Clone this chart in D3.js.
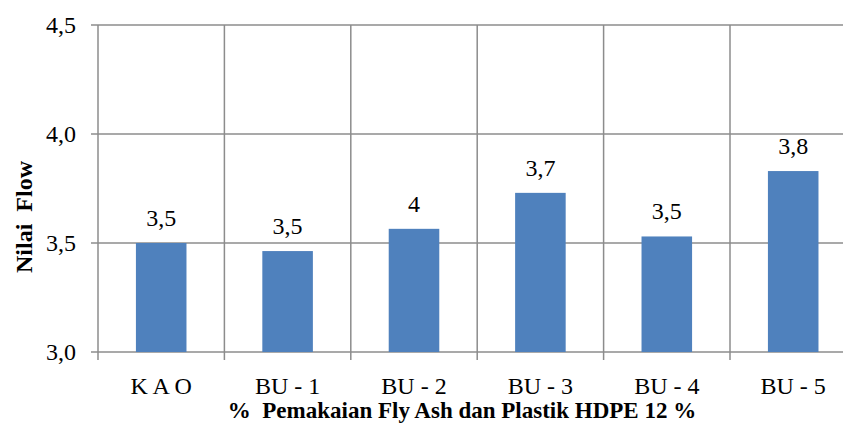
<!DOCTYPE html>
<html>
<head>
<meta charset="utf-8">
<script src="https://cdn.jsdelivr.net/npm/d3@7"></script>
<style>
  body { margin: 0; background: #fff; }
  svg text { white-space: pre; }
</style>
</head>
<body>
<svg id="chart" width="843" height="430"></svg>
<script>
// Data
var categories = ["K A O", "BU - 1", "BU - 2", "BU - 3", "BU - 4", "BU - 5"];
var values = [3.50, 3.463, 3.565, 3.73, 3.53, 3.83];
var valueLabels = ["3,5", "3,5", "4", "3,7", "3,5", "3,8"];
var yTicks = [3.0, 3.5, 4.0, 4.5];

var fontFamily = "'Liberation Serif', 'Times New Roman', Times, serif";

var svg = d3.select("#chart")
    .attr("font-family", fontFamily);

// plot area runs past the right edge of the picture (it is cropped)
var plotLeft = 98, plotTop = 25, plotBottom = 352, step = 126.4;
var plotRight = plotLeft + step * categories.length;

var x = d3.scaleBand()
    .domain(categories)
    .range([plotLeft, plotRight])
    .paddingInner(0.6)
    .paddingOuter(0.3);

var y = d3.scaleLinear()
    .domain([3.0, 4.5])
    .range([plotBottom, plotTop]);

var gridColor = "#8c8c8c";

// horizontal grid + y ticks
svg.append("g")
  .selectAll("line")
  .data(yTicks)
  .join("line")
    .attr("x1", plotLeft - 7)
    .attr("x2", plotRight)
    .attr("y1", function(d) { return y(d); })
    .attr("y2", function(d) { return y(d); })
    .attr("stroke", gridColor)
    .attr("stroke-width", 1.5);

// vertical grid at category edges, with ticks below the axis
var edges = d3.range(categories.length + 1).map(function(i) { return plotLeft + i * step; });
svg.append("g")
  .selectAll("line")
  .data(edges)
  .join("line")
    .attr("x1", function(d) { return d; })
    .attr("x2", function(d) { return d; })
    .attr("y1", plotTop)
    .attr("y2", plotBottom + 8)
    .attr("stroke", gridColor)
    .attr("stroke-width", 1.5);

// bars
svg.append("g")
  .selectAll("rect")
  .data(values)
  .join("rect")
    .attr("x", function(d, i) { return x(categories[i]); })
    .attr("y", function(d) { return y(d); })
    .attr("width", x.bandwidth())
    .attr("height", function(d) { return y(3.0) - y(d); })
    .attr("fill", "#4f81bd");

// value labels
svg.append("g")
  .selectAll("text")
  .data(values)
  .join("text")
    .attr("x", function(d, i) { return x(categories[i]) + x.bandwidth() / 2; })
    .attr("y", function(d) { return y(d) - 17; })
    .attr("text-anchor", "middle")
    .attr("font-size", 24)
    .text(function(d, i) { return valueLabels[i]; });

// y tick labels
svg.append("g")
  .selectAll("text")
  .data(yTicks)
  .join("text")
    .attr("x", 76)
    .attr("y", function(d) { return y(d); })
    .attr("dy", "0.33em")
    .attr("text-anchor", "end")
    .attr("font-size", 24)
    .text(function(d) { return d3.format(".1f")(d).replace(".", ","); });

// x category labels
svg.append("g")
  .selectAll("text")
  .data(categories)
  .join("text")
    .attr("x", function(d) { return x(d) + x.bandwidth() / 2; })
    .attr("y", 394)
    .attr("text-anchor", "middle")
    .attr("font-size", 24)
    .text(function(d) { return d; });

// axis titles
svg.append("text")
    .attr("x", 462)
    .attr("y", 418)
    .attr("text-anchor", "middle")
    .attr("font-size", 23)
    .attr("font-weight", "bold")
    .text("%  Pemakaian Fly Ash dan Plastik HDPE 12 %");

svg.append("text")
    .attr("transform", "translate(32,217) rotate(-90)")
    .attr("text-anchor", "middle")
    .attr("font-size", 24)
    .attr("font-weight", "bold")
    .text("Nilai  Flow");
</script>
</body>
</html>
